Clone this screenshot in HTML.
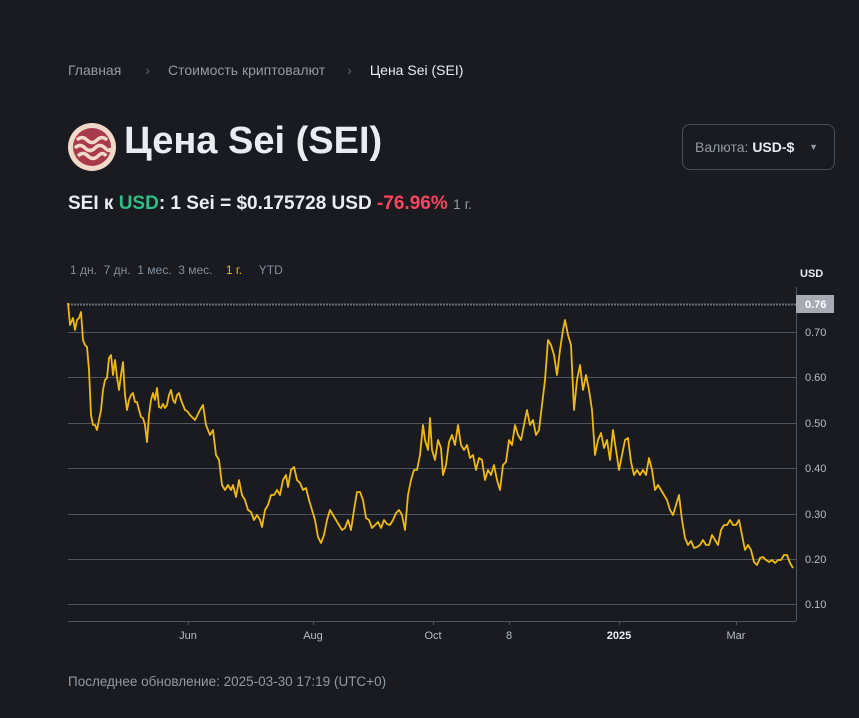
<!DOCTYPE html>
<html><head><meta charset="utf-8"><style>
body{margin:0;width:859px;height:718px;background:#1a1b20;font-family:"Liberation Sans","DejaVu Sans",sans-serif;position:relative;overflow:hidden;color:#eaecef}
.a{position:absolute;white-space:nowrap}
</style></head><body>
<div class="a" style="left:68px;top:62px;font-size:14px;color:#929aa5">Главная<span style="margin:0 18px 0 24px;color:#5e6673">›</span>Стоимость криптовалют<span style="margin:0 18px 0 22px;color:#5e6673">›</span><span style="color:#eaecef">Цена Sei (SEI)</span></div>
<svg class="a" style="left:68px;top:123px" width="48" height="48" viewBox="0 0 48 48"><circle cx="24" cy="24" r="24" fill="#f1d9c8"/><circle cx="24" cy="24" r="19" fill="#a83a4c"/><path d="M9 17q5-5 10 0t10 0 10 0M7 25q5-5 10 0t10 0 10 0 6 0M10 33q5-5 10 0t10 0 8 0" stroke="#f1d9c8" stroke-width="3.5" fill="none"/></svg>
<div class="a" style="left:124px;top:120px;font-size:38px;font-weight:bold;color:#eaecef">Цена Sei (SEI)</div>
<div class="a" style="left:682px;top:124px;width:153px;height:46px;border:1px solid #474d57;border-radius:8px;box-sizing:border-box;font-size:14px;color:#929aa5;line-height:44px;padding-left:12px">Валюта: <b style="color:#eaecef">USD-$</b><span style="position:absolute;right:16px;top:0;font-size:9px;color:#929aa5">▼</span></div>
<div class="a" style="left:68px;top:193px;font-size:19px;font-weight:bold">SEI к <span style="color:#2ebd85">USD</span>: 1 Sei = $0.175728 USD <span style="color:#f6465d">-76.96%</span> <span style="font-size:14px;font-weight:normal;color:#929aa5">1 г.</span></div>
<div class="a" style="left:70px;top:263px;font-size:12px;color:#848e9c;word-spacing:0">1 дн.&nbsp; 7 дн.&nbsp; 1 мес.&nbsp; 3 мес.&nbsp;&nbsp;&nbsp; <span style="color:#f0b90b">1 г.</span>&nbsp;&nbsp;&nbsp;&nbsp; YTD</div>
<div class="a" style="left:800px;top:268px;font-size:11px;font-weight:bold;color:#eaecef">USD</div>
<svg class="a" style="left:0;top:0" width="859" height="718">
<g stroke="#4f555f" stroke-width="1">
<line x1="68" y1="332.5" x2="796" y2="332.5"/><line x1="68" y1="377.5" x2="796" y2="377.5"/><line x1="68" y1="423.5" x2="796" y2="423.5"/><line x1="68" y1="468.5" x2="796" y2="468.5"/><line x1="68" y1="514.5" x2="796" y2="514.5"/><line x1="68" y1="559.5" x2="796" y2="559.5"/><line x1="68" y1="604.5" x2="796" y2="604.5"/>
<line x1="796.5" y1="287" x2="796.5" y2="621"/><line x1="68" y1="621.5" x2="796" y2="621.5"/>
<line x1="188.5" y1="621" x2="188.5" y2="625"/><line x1="313.5" y1="621" x2="313.5" y2="625"/><line x1="433.5" y1="621" x2="433.5" y2="625"/><line x1="509.5" y1="621" x2="509.5" y2="625"/><line x1="619.5" y1="621" x2="619.5" y2="625"/><line x1="736.5" y1="621" x2="736.5" y2="625"/>
</g>
<line x1="68" y1="304.5" x2="796" y2="304.5" stroke="#6a6f78" stroke-width="2" stroke-dasharray="2 1"/>
<rect x="796" y="295" width="38" height="18" fill="#a5aab3"/>
<g font-size="11" fill="#b7bdc6" font-family="Liberation Sans,sans-serif"><text x="805" y="308" fill="#fff" font-weight="bold">0.76</text><text x="805" y="336">0.70</text><text x="805" y="381">0.60</text><text x="805" y="427">0.50</text><text x="805" y="472">0.40</text><text x="805" y="518">0.30</text><text x="805" y="563">0.20</text><text x="805" y="608">0.10</text></g>
<g font-size="11" fill="#b7bdc6" text-anchor="middle"><text x="188" y="639">Jun</text><text x="313" y="639">Aug</text><text x="433" y="639">Oct</text><text x="509" y="639">8</text><text x="619" y="639" font-weight="bold" fill="#eaecef">2025</text><text x="736" y="639">Mar</text></g>
<polyline fill="none" stroke="#f0b90b" stroke-width="1.8" stroke-linejoin="round" points="68,303 70,325 73,318 75,330 77,320 79,318 81,312 83,340 85,345 87,347 89,370 91,415 93,425 95,425 97,430 99,420 101,410 103,390 105,380 107,378 109,358 111,355 113,375 115,360 117,377 119,390 121,375 123,362 125,395 127,410 129,400 131,395 133,393 135,402 137,402 139,410 141,417 143,418 145,425 147,442 149,415 151,400 153,393 155,400 157,388 159,407 161,408 163,404 165,408 167,405 169,395 171,390 173,400 175,403 177,395 179,393 181,400 183,405 185,410 187,411 190,415 195,420 200,410 203,405 206,425 210,435 213,430 216,455 219,460 222,485 225,490 228,485 231,490 233,485 236,497 239,480 242,495 245,500 248,510 251,512 254,520 257,515 260,520 262,527 265,510 268,505 271,495 274,495 277,490 280,495 283,480 286,475 288,487 291,470 294,467 297,480 300,483 303,490 306,488 309,500 312,510 315,520 318,537 321,543 324,535 327,520 330,510 333,515 336,520 339,525 342,530 345,528 348,520 351,530 354,510 357,492 360,492 363,500 366,518 369,520 372,528 375,525 378,522 381,528 384,520 387,524 390,525 393,520 396,513 399,510 402,515 405,530 408,495 411,480 414,470 417,470 420,455 423,425 425,440 428,450 430,418 432,450 435,460 438,440 441,448 443,475 446,465 449,442 452,435 455,445 458,425 461,445 464,450 467,445 470,458 473,455 476,470 479,458 482,460 485,480 488,470 491,475 494,465 497,480 500,490 503,465 506,462 509,440 512,445 515,425 518,435 521,440 524,425 527,410 530,425 533,420 536,435 539,430 542,405 545,380 548,340 551,345 554,355 557,375 560,350 563,330 565,320 568,335 571,345 574,410 577,380 580,365 583,390 586,375 589,390 592,410 595,455 598,440 601,433 604,448 607,440 610,460 613,430 616,450 619,470 622,455 625,440 628,438 631,462 634,475 637,470 640,475 643,470 646,475 649,458 652,470 655,490 658,485 661,490 664,495 667,500 670,510 673,515 676,505 679,495 682,520 685,538 688,545 691,541 694,548 697,547 700,545 703,540 706,545 709,545 712,535 715,540 718,545 721,530 724,525 727,525 730,520 733,525 736,525 739,520 742,535 745,550 748,545 751,550 754,562 757,565 760,558 763,557 766,560 769,562 772,560 775,563 778,560 781,560 784,555 787,555 790,563 793,568"/>
</svg>
<div class="a" style="left:68px;top:674px;font-size:13.5px;color:#929aa5">Последнее обновление: 2025-03-30 17:19 (UTC+0)</div>
</body></html>
